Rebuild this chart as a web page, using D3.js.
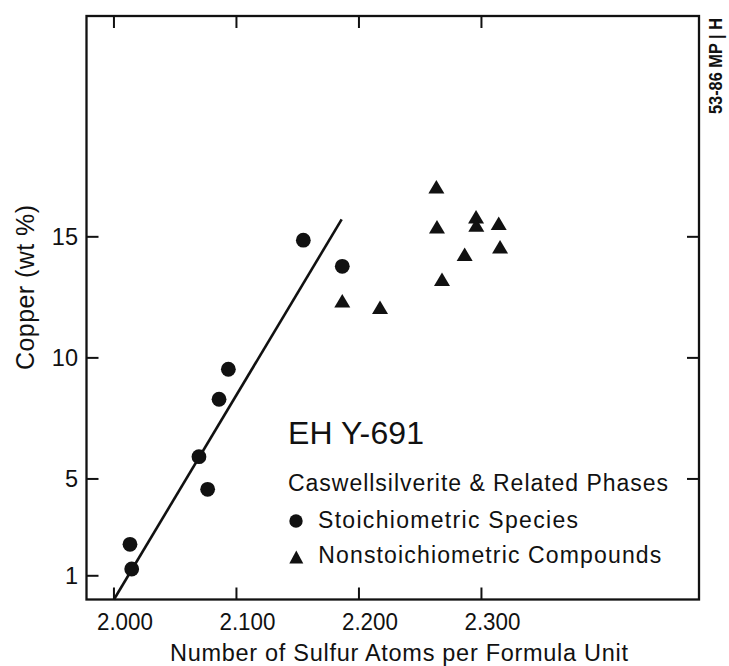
<!DOCTYPE html>
<html>
<head>
<meta charset="utf-8">
<script src="https://cdn.jsdelivr.net/npm/d3@7"></script>
<style>
  html, body { margin: 0; padding: 0; background: #fff; }
  svg { display: block; }
  text { font-family: "Liberation Sans", Arial, Helvetica, sans-serif; fill: #111; }
</style>
</head>
<body>
<svg id="chart" width="729" height="666"></svg>
<script>
// ---- Data ----
const stoichX = [2.1550, 2.1868, 2.0938, 2.0862, 2.0698, 2.0769, 2.0135, 2.0149];
const stoichY = [14.84, 13.76, 9.51, 8.27, 5.90, 4.55, 2.28, 1.26];

const nonstoichX = [2.2636, 2.2641, 2.2960, 2.2962, 2.3145, 2.3156, 2.2867, 2.2682, 2.1868, 2.2176];
const nonstoichY = [17.05, 15.40, 15.81, 15.47, 15.54, 14.57, 14.26, 13.23, 12.34, 12.07];

const fitLineX = [2.0004, 2.1863];
const fitLineY = [0.0, 15.70];

const xTicks = [2.0, 2.1, 2.2, 2.3];
const xTickLabels = ["2.000", "2.100", "2.200", "2.300"];
const yTicksLeft = [1, 5, 10, 15];
const yTicksRight = [5, 10, 15];

const xTitle = "Number of Sulfur Atoms per Formula Unit";
const yTitle = "Copper (wt %)";
const sampleTitle = "EH Y-691";
const legendTitle = "Caswellsilverite & Related Phases";
const legendLabels = ["Stoichiometric Species", "Nonstoichiometric Compounds"];
const sideNote = "53-86 MP | H";

// ---- Layout ----
const svg = d3.select("#chart");
const pL = 86.5, pR = 699, pT = 16, pB = 599.5;
const ink = "#111";

const x = d3.scaleLinear().domain([1.978, 2.478]).range([pL, pR]);
const y = d3.scaleLinear().domain([0, 24.1]).range([pB, pT]);

// frame
svg.append("rect")
  .attr("x", pL).attr("y", pT)
  .attr("width", pR - pL).attr("height", pB - pT)
  .attr("fill", "none").attr("stroke", ink).attr("stroke-width", 2.3);

const tickLen = 12;

// bottom axis (inward ticks)
const gB = svg.append("g").attr("transform", `translate(0,${pB})`)
  .call(d3.axisBottom(x).tickValues(xTicks).tickSize(-tickLen).tickSizeOuter(0)
    .tickFormat((d, i) => xTickLabels[i]));
gB.select(".domain").remove();
gB.attr("font-family", null).attr("font-size", null);
gB.selectAll(".tick line").attr("stroke", ink).attr("stroke-width", 2);
gB.selectAll(".tick text")
  .attr("y", 30.5).attr("dy", null).attr("x", 11)
  .attr("font-size", 24.5)
  .attr("textLength", 56).attr("lengthAdjust", "spacingAndGlyphs")
  .style("fill", ink);

// top axis (inward ticks, no labels)
const gT = svg.append("g").attr("transform", `translate(0,${pT})`)
  .call(d3.axisTop(x).tickValues(xTicks).tickSize(-tickLen).tickSizeOuter(0).tickFormat(""));
gT.select(".domain").remove();
gT.selectAll(".tick line").attr("stroke", ink).attr("stroke-width", 2);

// left axis
const gL = svg.append("g").attr("transform", `translate(${pL},0)`)
  .call(d3.axisLeft(y).tickValues(yTicksLeft).tickSize(-tickLen).tickSizeOuter(0).tickFormat(d3.format("d")));
gL.select(".domain").remove();
gL.attr("font-family", null).attr("font-size", null);
gL.selectAll(".tick line").attr("stroke", ink).attr("stroke-width", 2);
gL.selectAll(".tick text")
  .attr("x", -8.5).attr("dy", "0.33em")
  .attr("font-size", 23.5)
  .style("fill", ink);

// right axis
const gR = svg.append("g").attr("transform", `translate(${pR},0)`)
  .call(d3.axisRight(y).tickValues(yTicksRight).tickSize(-tickLen).tickSizeOuter(0).tickFormat(""));
gR.select(".domain").remove();
gR.selectAll(".tick line").attr("stroke", ink).attr("stroke-width", 2);

// axis titles
svg.append("text")
  .attr("x", 399).attr("y", 660.5)
  .attr("text-anchor", "middle").attr("font-size", 23.5)
  .attr("textLength", 458)
  .text(xTitle);

svg.append("text")
  .attr("transform", "translate(33.5,287.5) rotate(-90)")
  .attr("text-anchor", "middle").attr("font-size", 25)
  .attr("textLength", 165)
  .text(yTitle);

// side note
svg.append("text")
  .attr("transform", "translate(721.5,66) rotate(-90)")
  .attr("text-anchor", "middle").attr("font-size", 19).attr("font-weight", "bold")
  .attr("textLength", 96).attr("lengthAdjust", "spacingAndGlyphs")
  .text(sideNote);

// fit line
const fitData = fitLineX.map((v, i) => [v, fitLineY[i]]);
svg.append("path")
  .datum(fitData)
  .attr("d", d3.line().x(d => x(d[0])).y(d => y(d[1])))
  .attr("fill", "none").attr("stroke", ink).attr("stroke-width", 2.6);

// triangle path helper
function tri(cx, cy, w, h) {
  return `M${cx},${cy - h / 2}L${cx + w / 2},${cy + h / 2}L${cx - w / 2},${cy + h / 2}Z`;
}

// stoichiometric circles
svg.append("g").selectAll("circle")
  .data(stoichX.map((v, i) => [v, stoichY[i]]))
  .join("circle")
  .attr("cx", d => x(d[0])).attr("cy", d => y(d[1]))
  .attr("r", 7.4).attr("fill", ink);

// nonstoichiometric triangles
svg.append("g").selectAll("path")
  .data(nonstoichX.map((v, i) => [v, nonstoichY[i]]))
  .join("path")
  .attr("d", d => tri(x(d[0]), y(d[1]), 16, 13.5))
  .attr("fill", ink);

// legend block
svg.append("text")
  .attr("x", 288).attr("y", 444)
  .attr("font-size", 32)
  .attr("textLength", 136)
  .text(sampleTitle);

svg.append("text")
  .attr("x", 288).attr("y", 490.5)
  .attr("font-size", 23)
  .attr("textLength", 380)
  .text(legendTitle);

svg.append("circle").attr("cx", 296).attr("cy", 521).attr("r", 6.7).attr("fill", ink);
svg.append("text")
  .attr("x", 318).attr("y", 528)
  .attr("font-size", 23)
  .attr("textLength", 260)
  .text(legendLabels[0]);

svg.append("path").attr("d", tri(296.3, 557, 14, 13)).attr("fill", ink);
svg.append("text")
  .attr("x", 318.3).attr("y", 563)
  .attr("font-size", 23)
  .attr("textLength", 343)
  .text(legendLabels[1]);
</script>
</body>
</html>
